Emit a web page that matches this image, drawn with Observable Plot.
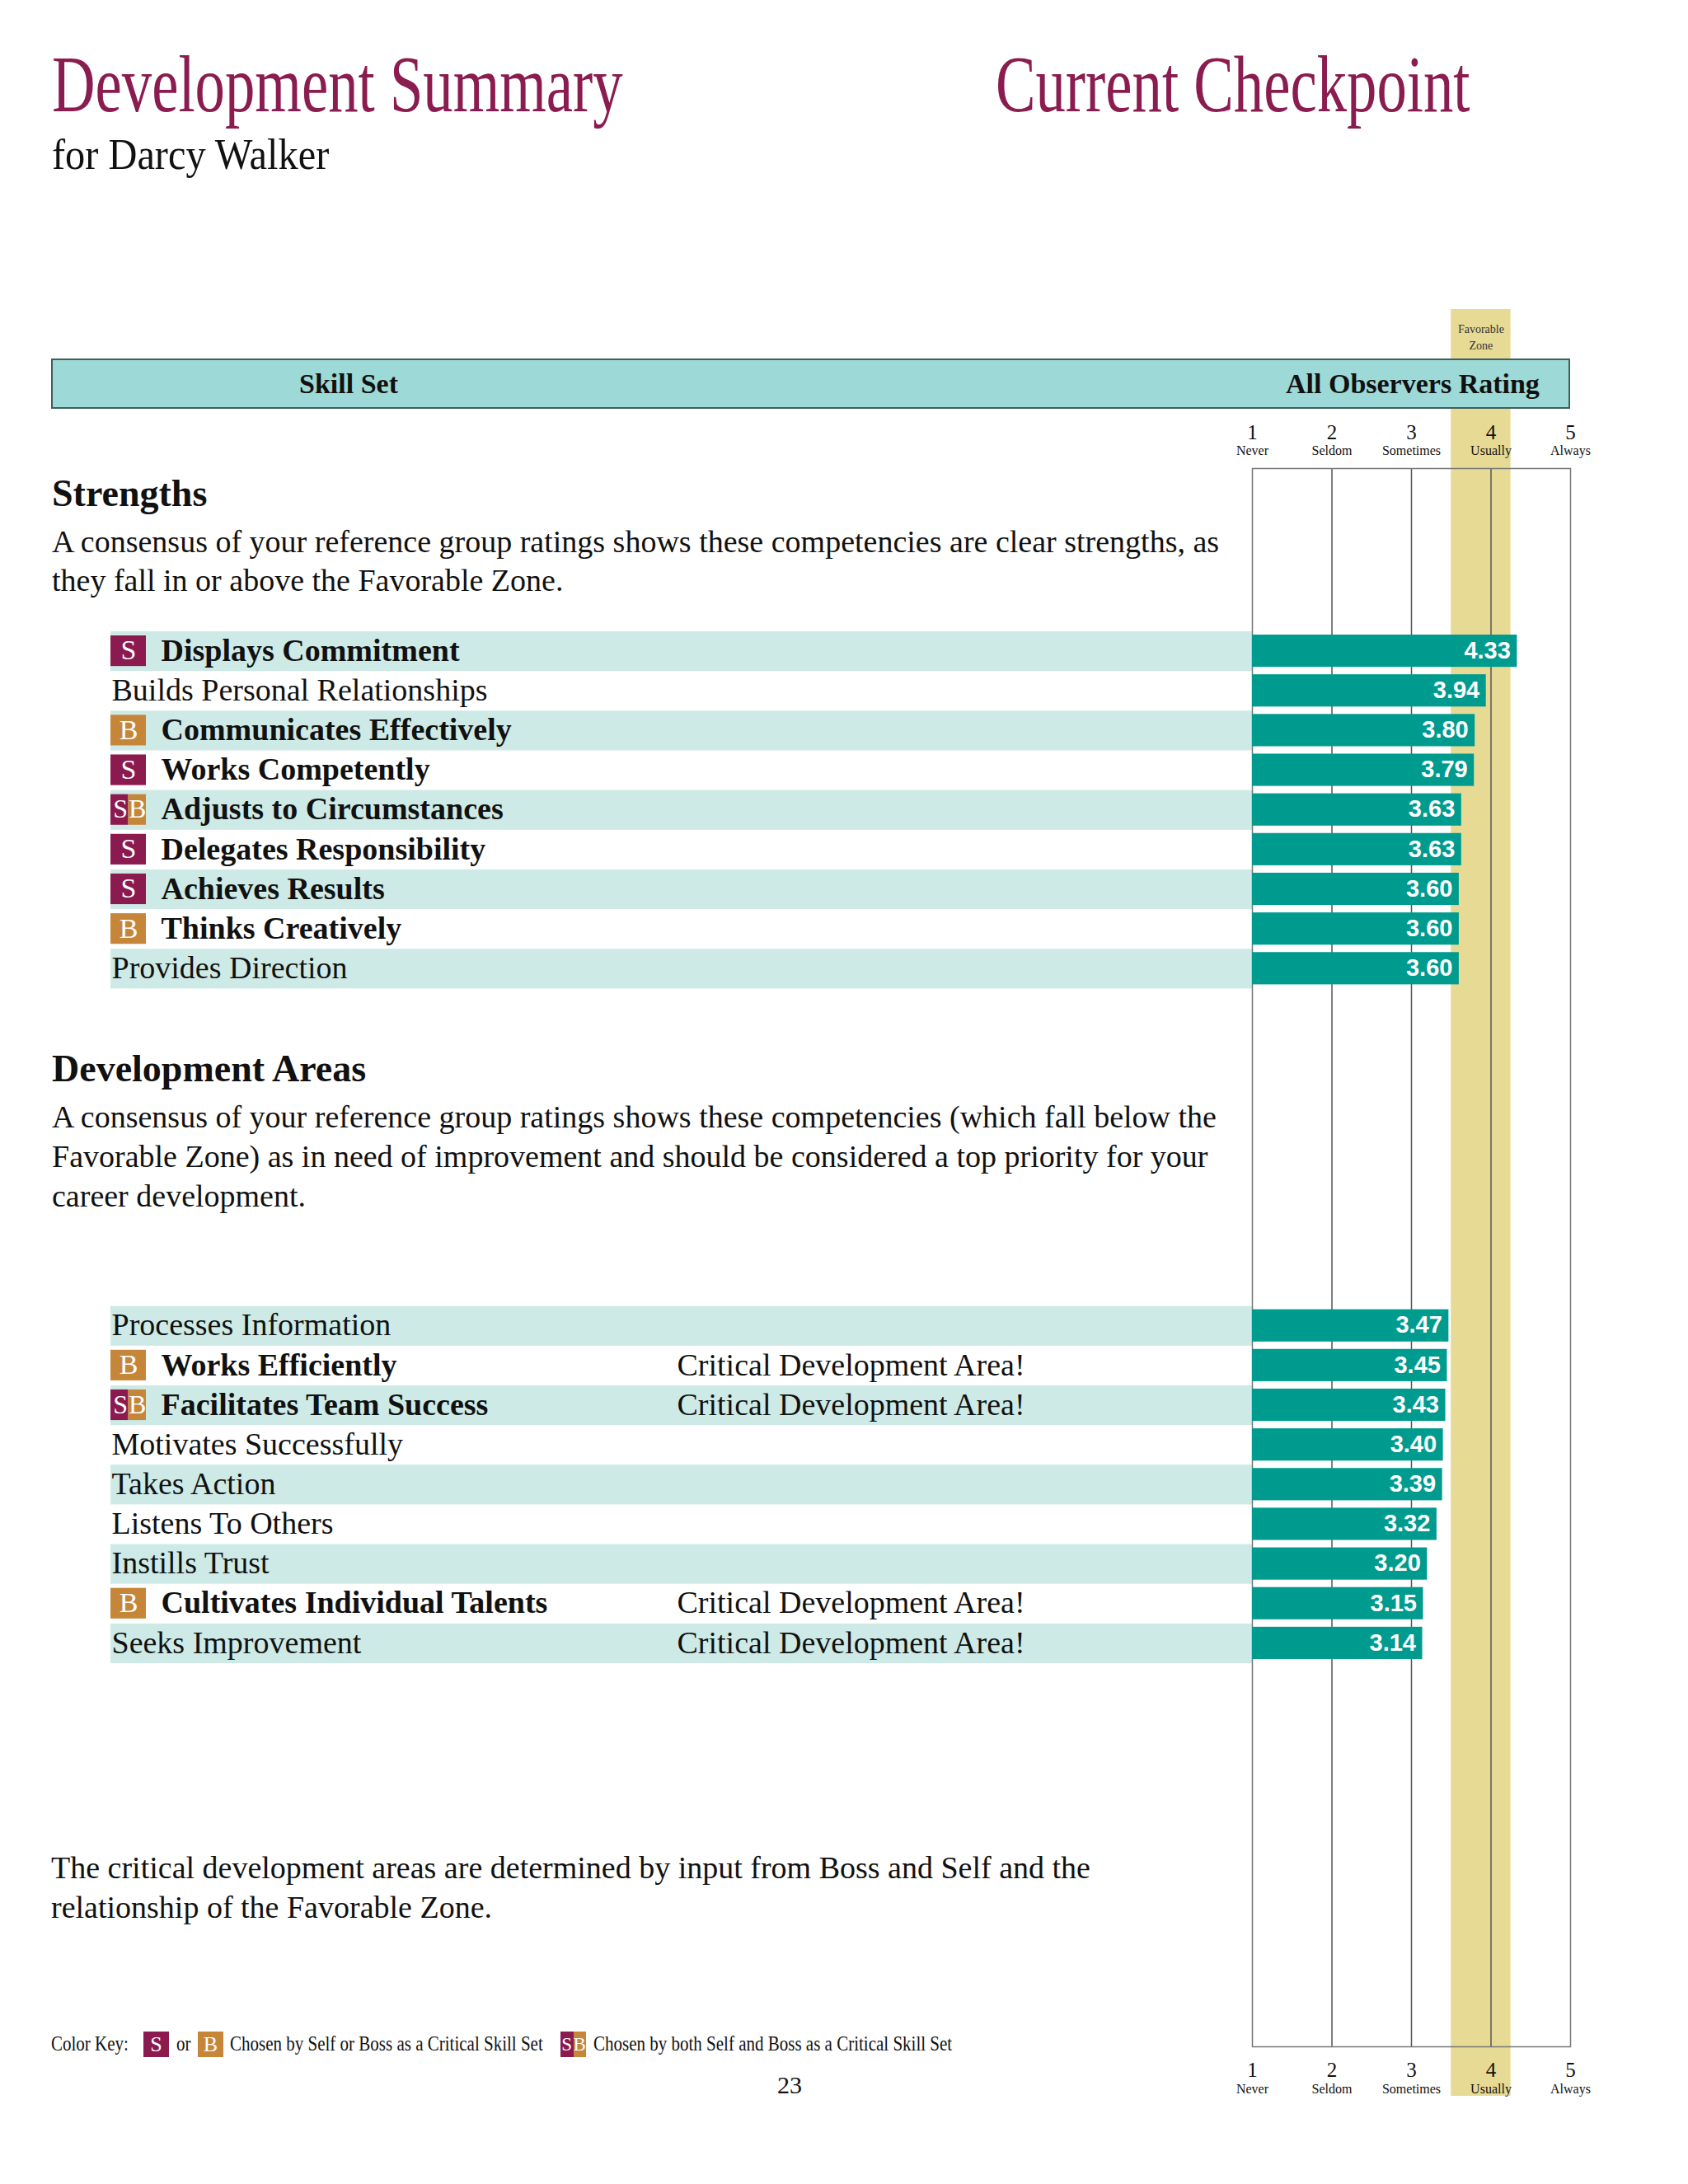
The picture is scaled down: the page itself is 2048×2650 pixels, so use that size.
<!DOCTYPE html>
<html>
<head>
<meta charset="utf-8">
<script src="https://cdn.jsdelivr.net/npm/d3@7"></script>
<script src="https://cdn.jsdelivr.net/npm/@observablehq/plot@0.6"></script>
<style>
  html, body { margin: 0; padding: 0; background: #ffffff; }
  #page { position: relative; width: 2048px; height: 2650px; overflow: hidden;
          font-family: "Liberation Serif", "Times New Roman", serif; color: #111; }
  #chart { position: absolute; left: 0; top: 0; z-index: 1; }
  .t { position: absolute; white-space: nowrap; line-height: 1; transform-origin: 0 0; z-index: 3; }
  #hdr { position: absolute; left: 62px; top: 435px; width: 1843px; height: 61px; box-sizing: border-box;
         background: #9dd9d6; border: 2px solid #3f5e5c; z-index: 2; }
  .kb { position: absolute; width: 31px; height: 31px; top: 2465px; color: #fff; font-size: 26px;
        line-height: 31px; text-align: center; z-index: 3; overflow: hidden; }
</style>
</head>
<body>
<div id="page">
  <div id="chart"></div>
  <div id="hdr"></div>
</div>
<script>
// ---------------- data ----------------
const strengths = ["Displays Commitment", "Builds Personal Relationships", "Communicates Effectively",
  "Works Competently", "Adjusts to Circumstances", "Delegates Responsibility", "Achieves Results",
  "Thinks Creatively", "Provides Direction"];
const strengthValues = [4.33, 3.94, 3.80, 3.79, 3.63, 3.63, 3.60, 3.60, 3.60];
const strengthBadges = ["S", "", "B", "S", "SB", "S", "S", "B", ""];

const devAreas = ["Processes Information", "Works Efficiently", "Facilitates Team Success",
  "Motivates Successfully", "Takes Action", "Listens To Others", "Instills Trust",
  "Cultivates Individual Talents", "Seeks Improvement"];
const devValues = [3.47, 3.45, 3.43, 3.40, 3.39, 3.32, 3.20, 3.15, 3.14];
const devBadges = ["", "B", "SB", "", "", "", "", "B", ""];
const devCritical = [false, true, true, false, false, false, false, true, true];

const scaleValues = [1, 2, 3, 4, 5];
const scaleWords = ["Never", "Seldom", "Sometimes", "Usually", "Always"];
const favorableZone = [3.5, 4.25];

const criticalText = "Critical Development Area!";

// ---------------- styles / layout ----------------
const SERIF = "Liberation Serif, Times New Roman, serif";
const SANS = "Liberation Sans, Arial, sans-serif";
const MAROON = "#8b1a4f", OCHRE = "#c6863a", TEAL = "#009b8f", LIGHT = "#cdeae6", GOLD = "#e6da94";
const W = 2048, H = 2650;
const PL = 1519, PR = 1905, PT = 568, PB = 2483;   // grid box
const ROWS_TOP = 766, ROWS_BOTTOM = 2018, GAP_ROWS = 8;
const BAND_X = 134, BADGE_W = 43, BOLD_X = 195, CRIT_X = 821;

const rows = [
  ...strengths.map((name, i) => ({name, idx: i, value: strengthValues[i], badge: strengthBadges[i], critical: false})),
  ...devAreas.map((name, i) => ({name, idx: i, value: devValues[i], badge: devBadges[i], critical: devCritical[i]}))
];
const yDomain = [...strengths, ...Array.from({length: GAP_ROWS}, (_, i) => `gap${i}`), ...devAreas];

const single = rows.filter(d => d.badge === "S" || d.badge === "B");
const both = rows.filter(d => d.badge === "SB");
const half = BADGE_W / 2;

const chart = Plot.plot({
  width: W, height: H,
  marginLeft: PL, marginRight: W - PR, marginTop: PT, marginBottom: H - PB,
  x: {domain: [scaleValues[0], scaleValues[scaleValues.length - 1]], axis: null},
  y: {type: "band", domain: yDomain, range: [ROWS_TOP, ROWS_BOTTOM], padding: 0, round: false, axis: null},
  style: {background: "transparent", fontFamily: SERIF, overflow: "visible", color: "#111"},
  marks: [
    // favorable zone band (extends above and below the grid box)
    Plot.rect([favorableZone], {x1: d => d[0], x2: d => d[1], fill: GOLD, insetTop: -(PT - 375), insetBottom: -(2543 - PB)}),
    // alternating light row bands, left of the grid
    Plot.barX(rows.filter(d => d.idx % 2 === 0), {x1: 1, x2: 1, y: "name", fill: LIGHT, insetLeft: -(PL - BAND_X)}),
    // grid
    Plot.ruleX([2, 3, 4], {stroke: "#555", strokeWidth: 1.5}),
    Plot.frame({stroke: "#777", strokeWidth: 1.5}),
    // bars
    Plot.barX(rows, {x1: 1, x2: "value", y: "name", fill: TEAL, insetTop: 4, insetBottom: 5}),
    Plot.text(rows, {x: "value", y: "name", text: d => d.value.toFixed(2), textAnchor: "end", dx: -8, dy: -1,
      fill: "white", fontSize: 29, fontWeight: "bold", fontFamily: SANS}),
    // badges
    Plot.barX(single, {x1: 1, x2: 1, y: "name", fill: d => d.badge === "S" ? MAROON : OCHRE,
      insetLeft: -(PL - BAND_X), insetRight: PL - BAND_X - BADGE_W, insetTop: 5, insetBottom: 6}),
    Plot.barX(both, {x1: 1, x2: 1, y: "name", fill: MAROON,
      insetLeft: -(PL - BAND_X), insetRight: PL - BAND_X - half, insetTop: 5, insetBottom: 6}),
    Plot.barX(both, {x1: 1, x2: 1, y: "name", fill: OCHRE,
      insetLeft: -(PL - BAND_X - half), insetRight: PL - BAND_X - BADGE_W, insetTop: 5, insetBottom: 6}),
    Plot.text(single, {y: "name", frameAnchor: "left", text: "badge", textAnchor: "middle",
      dx: BAND_X + half - PL, dy: -1, fill: "white", fontSize: 34, fontFamily: SERIF}),
    Plot.text(both, {y: "name", frameAnchor: "left", text: () => "S", textAnchor: "middle",
      dx: BAND_X + half / 2 - PL + 1, dy: -1, fill: "white", fontSize: 32, fontFamily: SERIF}),
    Plot.text(both, {y: "name", frameAnchor: "left", text: () => "B", textAnchor: "middle",
      dx: BAND_X + half * 1.5 - PL, dy: -1, fill: "white", fontSize: 32, fontFamily: SERIF}),
    // skill labels
    Plot.text(rows.filter(d => d.badge), {y: "name", frameAnchor: "left", text: "name", textAnchor: "start",
      dx: BOLD_X - PL, dy: -1, fontSize: 38, fontWeight: "bold", fontFamily: SERIF, fill: "#111"}),
    Plot.text(rows.filter(d => !d.badge), {y: "name", frameAnchor: "left", text: "name", textAnchor: "start",
      dx: BAND_X + 1 - PL, dy: -1, fontSize: 38, fontFamily: SERIF, fill: "#111"}),
    Plot.text(rows.filter(d => d.critical), {y: "name", frameAnchor: "left", text: () => criticalText,
      textAnchor: "start", dx: CRIT_X - PL, dy: -1, fontSize: 38, fontFamily: SERIF, fill: "#111"}),
    // scale axes (top and bottom)
    Plot.axisX(scaleValues, {anchor: "top", tickSize: 0, tickPadding: PT - 532, fontSize: 25, fontFamily: SERIF, label: null, fill: "#111"}),
    Plot.axisX(scaleValues, {anchor: "top", tickSize: 0, tickPadding: PT - 551, fontSize: 16, fontFamily: SERIF, label: null, fill: "#111",
      tickFormat: d => scaleWords[scaleValues.indexOf(d)]}),
    Plot.axisX(scaleValues, {anchor: "bottom", tickSize: 0, tickPadding: 2502 - PB, fontSize: 25, fontFamily: SERIF, label: null, fill: "#111"}),
    Plot.axisX(scaleValues, {anchor: "bottom", tickSize: 0, tickPadding: 2528 - PB, fontSize: 16, fontFamily: SERIF, label: null, fill: "#111",
      tickFormat: d => scaleWords[scaleValues.indexOf(d)]}),
    // favorable zone label
    Plot.text([favorableZone], {x: d => (d[0] + d[1]) / 2, frameAnchor: "top", lineAnchor: "top", dy: 389 - PT,
      text: () => "Favorable\nZone", fontSize: 14, lineHeight: 1.45, fontFamily: SERIF, fill: "#333"})
  ]
});
document.getElementById("chart").appendChild(chart);

// ---------------- page text ----------------
const page = document.getElementById("page");
function addText(str, x, baseline, size, o = {}) {
  const el = document.createElement("div");
  el.className = "t";
  el.textContent = str;
  el.style.left = x + "px";
  el.style.top = (baseline - 0.8375 * size) + "px";
  el.style.fontSize = size + "px";
  if (o.weight) el.style.fontWeight = o.weight;
  if (o.color) el.style.color = o.color;
  if (o.sx) el.style.transform = `scaleX(${o.sx})`;
  page.appendChild(el);
  return el;
}
const titleLeft = "Development Summary", titleRight = "Current Checkpoint", subtitle = "for Darcy Walker";
addText(titleLeft, 63, 135, 98, {color: "#8a1c50", sx: 0.742});
addText(titleRight, 1208, 135, 98, {color: "#8a1c50", sx: 0.742});
addText(subtitle, 63, 206, 52, {sx: 0.93});

addText("Skill Set", 363, 477, 34, {weight: "bold"});
addText("All Observers Rating", 1560, 477, 34, {weight: "bold"});

addText("Strengths", 63, 615, 46, {weight: "bold"});
["A consensus of your reference group ratings shows these competencies are clear strengths, as",
 "they fall in or above the Favorable Zone."].forEach((s, i) => addText(s, 63, 670 + i * 47, 38));

addText("Development Areas", 63, 1313, 46, {weight: "bold"});
["A consensus of your reference group ratings shows these competencies (which fall below the",
 "Favorable Zone) as in need of improvement and should be considered a top priority for your",
 "career development."].forEach((s, i) => addText(s, 63, 1368 + i * 48, 38));

["The critical development areas are determined by input from Boss and Self and the",
 "relationship of the Favorable Zone."].forEach((s, i) => addText(s, 62, 2279 + i * 48, 38));

// color key
addText("Color Key:", 62, 2488, 25, {sx: 0.84});
function keyBadge(x, parts) {
  const w = 31 / parts.length;
  parts.forEach((p, i) => {
    const b = document.createElement("div");
    b.className = "kb";
    b.style.left = (x + i * w) + "px";
    b.style.width = w + "px";
    b.style.background = p === "S" ? MAROON : OCHRE;
    b.textContent = p;
    if (parts.length > 1) b.style.fontSize = "23px";
    page.appendChild(b);
  });
}
keyBadge(174, ["S"]);
addText("or", 214, 2488, 25, {sx: 0.84});
keyBadge(240, ["B"]);
addText("Chosen by Self or Boss as a Critical Skill Set", 279, 2488, 25, {sx: 0.84});
keyBadge(680, ["S", "B"]);
addText("Chosen by both Self and Boss as a Critical Skill Set", 720, 2488, 25, {sx: 0.84});

const pn = addText("23", 858, 2540, 30);
pn.style.width = "200px";
pn.style.textAlign = "center";
</script>
</body>
</html>
